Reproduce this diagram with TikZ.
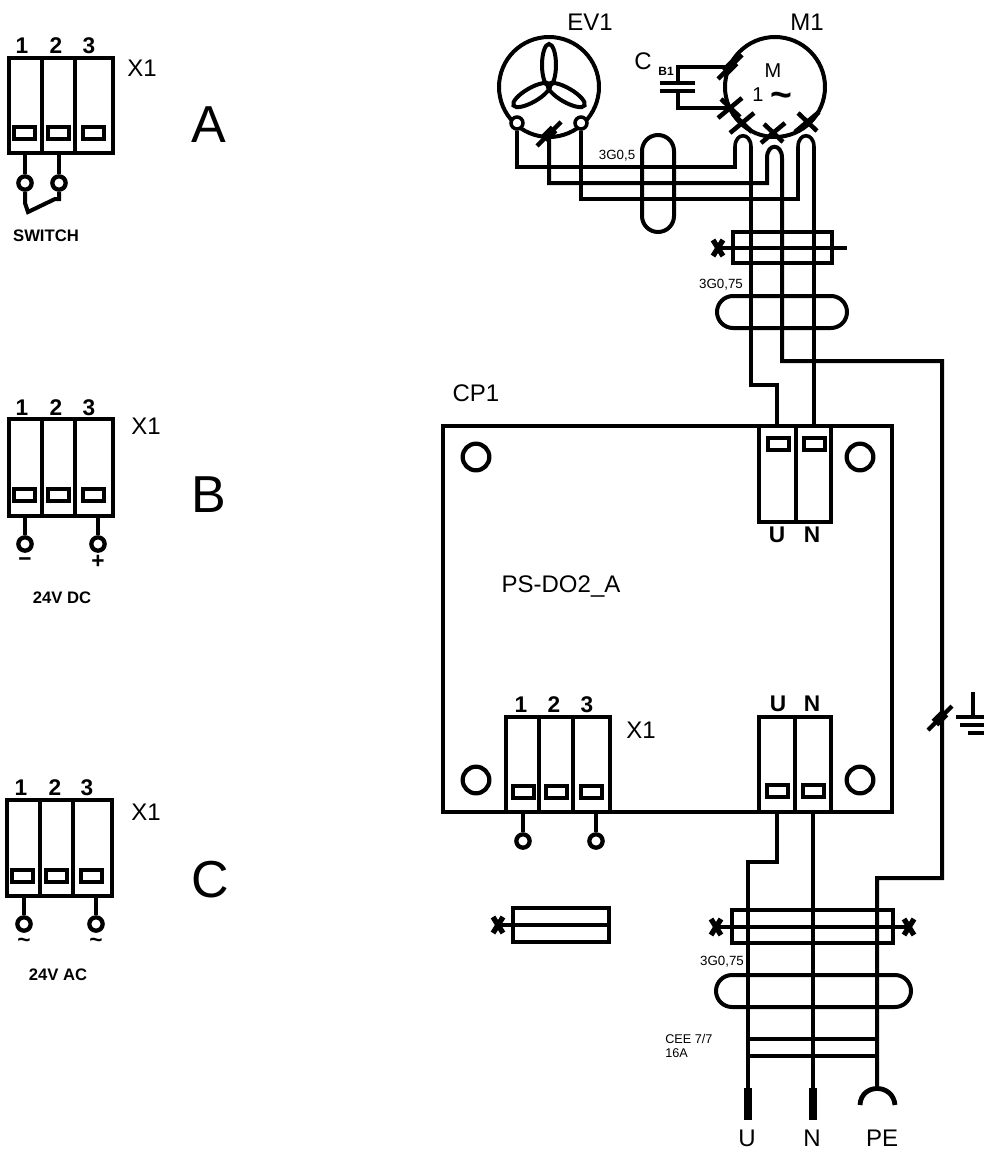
\documentclass[tikz,border=0pt]{standalone}
\usepackage{fontspec}
\setmainfont{Liberation Sans}
\tikzset{
  wire/.style={line width=3pt},
  thinwire/.style={line width=2.7pt},
  frame/.style={line width=3.4pt},
  slotbox/.style={line width=3.2pt},
  pin/.style={circle, draw, fill=white, line width=3.2pt, minimum size=10pt, inner sep=0pt},
  hole/.style={circle, draw, line width=3.2pt, minimum size=20pt, inner sep=0pt},
  label/.style={inner sep=0pt, font=\fontsize{18}{20}\selectfont},
  small/.style={inner sep=0pt, font=\fontsize{10}{11}\selectfont},
  num/.style={inner sep=0pt, font=\fontsize{17}{18}\selectfont\bfseries},
  blob/.style={inner sep=0pt, font=\fontsize{12.5}{14}\selectfont\bfseries},
  big/.style={inner sep=0pt, font=\fontsize{39}{42}\selectfont}
}
% slot of a terminal
\newcommand{\slot}[2]{\draw[slotbox] (#1,#2) rectangle ++(21,12);}
% cross on a wire
\newcommand{\crossmark}[1]{\draw[wire,line width=3.4pt,shift={#1}] (-12,10) -- (12,-10) (-9,-9) -- (10,9);}
% slash on a wire
\newcommand{\slashmark}[1]{\draw[wire,line width=3.2pt,shift={#1}] (-12,12) -- (12,-12); \draw[line width=7pt,shift={#1}] (-5,5) -- (5,-5);}
% small x at a clamp end
\newcommand{\clampx}[1]{\draw[wire,line width=4pt,shift={#1}] (-5,-8) -- (5,8) (5,-8) -- (-5,8);}
\begin{document}
\begin{tikzpicture}[x=0.75pt,y=-0.75pt]
  \useasboundingbox (0,0) rectangle (984,1150);

  % Variante A
  \draw[frame] (9,58) rectangle (113,153);
  \draw[wire] (42,58) -- (42,153) (75,58) -- (75,153);
  \foreach \x in {14,48,83} {\slot{\x}{127}}
  \node[num] (a1) at (22,46) {1};
  \node[num] (a2) at (56,46) {2};
  \node[num] (a3) at (89,46) {3};
  \node[label] (ax) at (142,68) {X1};
  \node[big] (atitle) at (209,125) {A};
  \node[pin] (apin1) at (25,183) {};
  \node[pin] (apin2) at (59,183) {};
  \coordinate (aout1) at (25,153);
  \coordinate (aout2) at (59,153);
  \draw[wire] (aout1) -- (apin1);
  \draw[wire] (aout2) -- (apin2);
  \draw[wire] (apin1) -- (25,203) -- (28,212) -- (55,199) -- (59,199) -- (apin2);
  \node[blob] (aname) at (46,236) {SWITCH};

  % Variante B
  \draw[frame] (9,419) rectangle (113,516);
  \draw[wire] (42,419) -- (42,516) (75,419) -- (75,516);
  \foreach \x in {14,48,83} {\slot{\x}{489}}
  \node[num] (b1) at (22,408) {1};
  \node[num] (b2) at (56,408) {2};
  \node[num] (b3) at (89,408) {3};
  \node[label] (bx) at (146,426) {X1};
  \node[big] (btitle) at (209,495) {B};
  \node[pin] (bpin1) at (25,544) {};
  \node[pin] (bpin2) at (98,544) {};
  \coordinate (bout1) at (25,516);
  \coordinate (bout2) at (98,516);
  \draw[wire] (bout1) -- (bpin1);
  \draw[wire] (bout2) -- (bpin2);
  \node[num] (bminus) at (25,562) {−};
  \node[num] (bplus) at (98,562) {+};
  \node[blob] (bname) at (62,598) {24V DC};

  % Variante C
  \draw[frame] (7,800) rectangle (112,896);
  \draw[wire] (40,800) -- (40,896) (73,800) -- (73,896);
  \foreach \x in {12,46,81} {\slot{\x}{870}}
  \node[num] (c1) at (21,788) {1};
  \node[num] (c2) at (55,788) {2};
  \node[num] (c3) at (87,788) {3};
  \node[label] (cx) at (146,812) {X1};
  \node[big] (ctitle) at (210,880) {C};
  \node[pin] (cpin1) at (24,924) {};
  \node[pin] (cpin2) at (96,924) {};
  \coordinate (cout1) at (24,896);
  \coordinate (cout2) at (96,896);
  \draw[wire] (cout1) -- (cpin1);
  \draw[wire] (cout2) -- (cpin2);
  \node[num] (ctil1) at (24,943) {\textasciitilde};
  \node[num] (ctil2) at (96,943) {\textasciitilde};
  \node[blob] (cname) at (58,975) {24V AC};

  % Ventilator
  \node[label] (evname) at (590,22) {EV1};
  \node[circle, draw, wire, minimum size=75pt, inner sep=0pt] (ev) at (549,87) {};
  \foreach \a in {0,120,240}
    \draw[wire,rotate around={\a:(549,85)}] (549,65) ellipse (7 and 21);
  \node[pin,line width=2.6pt,minimum size=9pt] (evl) at (517,123) {};
  \node[pin,line width=2.6pt,minimum size=9pt] (evr) at (581,123) {};
  \coordinate (evm) at (549,134);
  \slashmark{(549,134)}

  % Motor
  \node[label] (mname) at (807,22) {M1};
  \node[circle, draw, wire, minimum size=75pt, inner sep=0pt] (mot) at (775,87) {};
  \node[inner sep=0pt, font=\fontsize{15}{17}\selectfont] (mm) at (773,71) {M};
  \node[inner sep=0pt, font=\fontsize{15}{17}\selectfont] (mone) at (758,95) {1};
  \node[inner sep=0pt, font=\fontsize{28}{30}\selectfont\bfseries] (mtil) at (781,100) {\textasciitilde};
  \coordinate (mc1) at (730,67);
  \coordinate (mc2) at (730,108);
  \slashmark{(730,67)}
  \crossmark{(730,108)}
  \crossmark{(742,123)}
  \crossmark{(773,133)}
  \crossmark{(807,122)}

  % Kondensator
  \node[label] (cname1) at (643,61) {C};
  \node[inner sep=0pt, font=\fontsize{9}{10}\selectfont\bfseries] (cname2) at (666,71) {B1};
  \coordinate (cp1) at (678,83);
  \coordinate (cp2) at (678,91);
  \draw[wire] (mc1) -| (cp1);
  \draw[wire] (mc2) -| (cp2);
  \draw[wire] (660,83) -- (695,83) (660,91) -- (695,91);

  % Leitungen oben
  \coordinate (w1) at (735,167);
  \coordinate (w2) at (767,183);
  \coordinate (w3) at (798,199);
  \draw[thinwire] (evl) |- (w1) -- (735,147) .. controls (735,132) and (751,132) .. (751,147) -- (751,385) -- (777,385) -- (777,426);
  \draw[wire] (evm) |- (w2) -- (767,158) .. controls (767,143) and (782,143) .. (782,158) -- (782,361) -- (942,361) -- (942,878) -- (877,878) -- (877,1088);
  \draw[thinwire] (evr) |- (w3) -- (798,147) .. controls (798,132) and (814,132) .. (814,147) -- (814,426);
  \draw[wire,rounded corners=12pt] (642,135) rectangle (674,232);
  \node[small] (cab1) at (617,156) {3G0,5};

  % Schelle oben
  \draw[wire] (733,232) rectangle (832,263);
  \draw[wire] (718,248) -- (847,248);
  \clampx{(718,248)}
  \node[small] (cab2) at (721,285) {3G0,75};
  \draw[wire,rounded corners=12pt] (717,296) rectangle (847,328);

  % Platine
  \node[label] (cpname) at (476,393) {CP1};
  \draw[frame] (443,426) rectangle (892,812);
  \node[hole] (h1) at (476,457) {};
  \node[hole] (h2) at (860,457) {};
  \node[hole] (h3) at (476,780) {};
  \node[hole] (h4) at (860,780) {};
  \node[label] (board) at (561,586) {PS-DO2\_A};

  % Klemmen oben
  \draw[wire] (759,426) rectangle (831,522);
  \draw[wire] (796,426) -- (796,522);
  \foreach \x in {768,804} {\slot{\x}{438}}
  \node[num] (ut) at (777,535) {U};
  \node[num] (nt) at (812,535) {N};

  % Klemmen unten
  \draw[wire] (759,717) rectangle (831,812);
  \draw[wire] (795,717) -- (795,812);
  \foreach \x in {767,803} {\slot{\x}{785}}
  \node[num] (ub) at (778,704) {U};
  \node[num] (nb) at (812,704) {N};

  % Klemmen X1
  \draw[frame] (506,717) rectangle (610,812);
  \draw[wire] (539,717) -- (539,812) (573,717) -- (573,812);
  \foreach \x in {513,546,581} {\slot{\x}{786}}
  \node[num] (p1) at (521,705) {1};
  \node[num] (p2) at (554,705) {2};
  \node[num] (p3) at (587,705) {3};
  \node[label] (px) at (641,730) {X1};
  \node[pin] (ppin1) at (523,841) {};
  \node[pin] (ppin2) at (596,841) {};
  \coordinate (pout1) at (523,812);
  \coordinate (pout2) at (596,812);
  \draw[wire] (pout1) -- (ppin1);
  \draw[wire] (pout2) -- (ppin2);

  % Schelle links
  \draw[frame] (513,908) rectangle (609,942);
  \draw[thinwire] (500,925) -- (609,925);
  \clampx{(498,925)}

  % Leitungen unten
  \coordinate (uout) at (777,812);
  \coordinate (nout) at (813,812);
  \coordinate (uend) at (748,1120);
  \coordinate (nend) at (813,1120);
  \draw[thinwire] (uout) -- (777,862) -- (748,862) -- (uend);
  \draw[thinwire] (nout) -- (nend);
  \draw[line width=5.5pt] (748,1088) -- (uend);
  \draw[line width=5.5pt] (813,1088) -- (nend);
  \draw[wire,line width=3.6pt] (860,1105) .. controls (861,1083) and (893,1083) .. (895,1105);

  % Erde
  \slashmark{(940,718)}
  \coordinate (gnd) at (973,692);
  \draw[wire] (gnd) -- (973,717);
  \draw[wire] (956,717) -- (984,717) (960,725) -- (984,725) (968,733) -- (984,733);

  % Schelle unten
  \draw[frame] (732,910) rectangle (893,943);
  \draw[thinwire] (716,927) -- (909,927);
  \clampx{(716,927)}
  \clampx{(909,927)}
  \node[small] (cab3) at (722,962) {3G0,75};
  \draw[wire,rounded corners=12pt] (716,975) rectangle (911,1007);

  % Stecker
  \draw[frame] (748,1039) -- (877,1039);
  \draw[thinwire] (748,1056) -- (877,1056);
  \node[inner sep=0pt, align=left, anchor=west, font=\fontsize{9.5}{10.5}\selectfont] (plug) at (665,1046) {CEE 7/7\\16A};
  \node[label] (lu) at (747,1138) {U};
  \node[label] (ln) at (812,1138) {N};
  \node[label] (lpe) at (882,1138) {PE};
\end{tikzpicture}
\end{document}
